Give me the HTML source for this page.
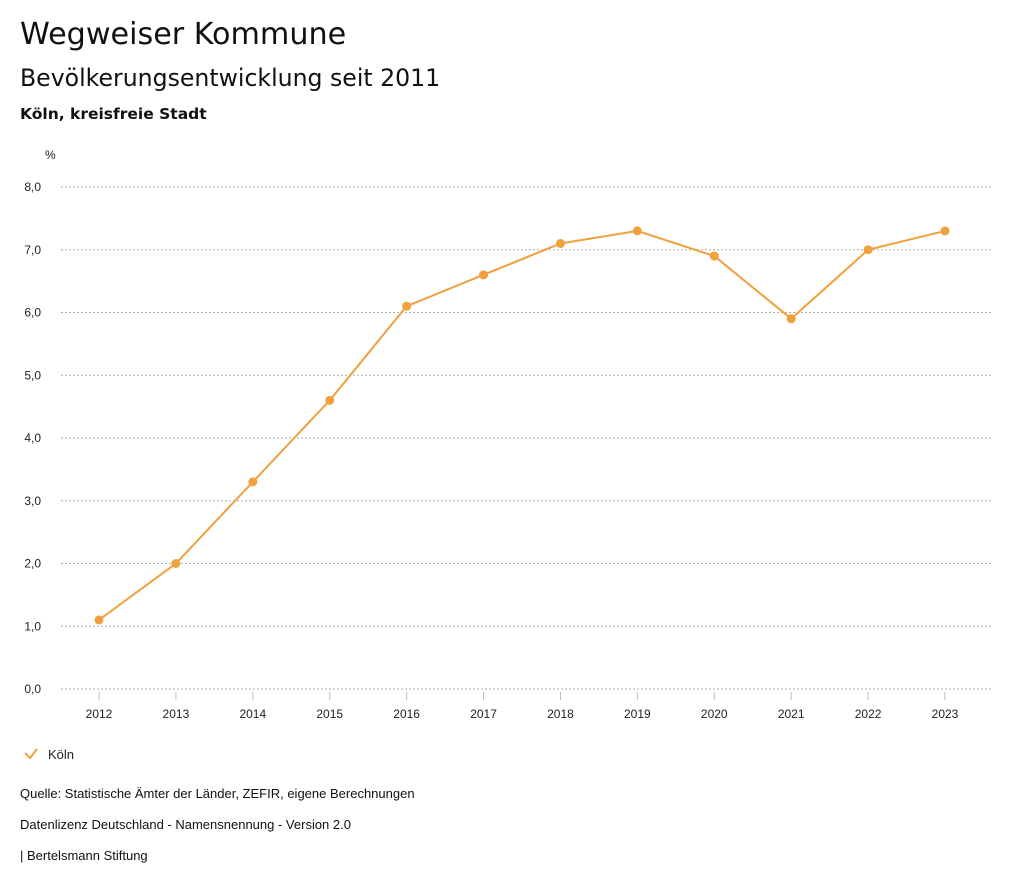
<!DOCTYPE html>
<html><head><meta charset="utf-8"><style>
body{margin:0;background:#fff;font-family:"Liberation Sans","DejaVu Sans",sans-serif;color:#111;}
.t{position:absolute;left:20px;white-space:nowrap}
.h{font-family:"DejaVu Sans",sans-serif}
</style></head><body>
<div style="position:relative;width:1024px;height:888px;overflow:hidden">
<div class="t h" style="top:17px;font-size:30.2px">Wegweiser Kommune</div>
<div class="t h" style="top:64px;font-size:23.6px">Bevölkerungsentwicklung seit 2011</div>
<div class="t h" style="top:105px;font-size:15.5px;font-weight:bold">Köln, kreisfreie Stadt</div>
<svg id="chart" width="1024" height="888" style="position:absolute;left:0;top:0"></svg>
<div class="t" style="top:786px;font-size:13px">Quelle: Statistische Ämter der Länder, ZEFIR, eigene Berechnungen</div>
<div class="t" style="top:817px;font-size:13px">Datenlizenz Deutschland - Namensnennung - Version 2.0</div>
<div class="t" style="top:848px;font-size:13px">| Bertelsmann Stiftung</div>
</div>
<script>
const years=["2012","2013","2014","2015","2016","2017","2018","2019","2020","2021","2022","2023"];
const values=[1.1,2.0,3.3,4.6,6.1,6.6,7.1,7.3,6.9,5.9,7.0,7.3];
const yTicks=[0,1,2,3,4,5,6,7,8];
const yTickLabels=["0,0","1,0","2,0","3,0","4,0","5,0","6,0","7,0","8,0"];
const NS="http://www.w3.org/2000/svg";
const svg=document.getElementById('chart');
const yMin=0,yMax=8,pTop=187,pBot=689,pLeft=61,pRight=991,x0=99,x1=945;
const y=v=>pBot-(v-yMin)/(yMax-yMin)*(pBot-pTop);
const x=i=>x0+i*(x1-x0)/(years.length-1);
function mk(tag,attrs){const e=document.createElementNS(NS,tag);for(const k in attrs)e.setAttribute(k,attrs[k]);svg.appendChild(e);return e;}
const u=mk('text',{x:45,y:159,'font-size':12,fill:'#222'});u.textContent='%';


yTicks.forEach((t,i)=>{
 const l=mk('line',{x1:pLeft,x2:pRight,y1:y(t),y2:y(t),stroke:'#aaa','stroke-dasharray':'2,2','stroke-width':1});
 
 
 const tx=mk('text',{x:41,y:y(t)+4,'text-anchor':'end','font-size':12,fill:'#222'});tx.textContent=yTickLabels[i];
 
 
});
years.forEach((yr,i)=>{
 const tk=mk('line',{x1:x(i),x2:x(i),y1:692,y2:700,stroke:'#bbb'});
 
 
 const tx=mk('text',{x:x(i),y:718,'text-anchor':'middle','font-size':12,fill:'#222'});tx.textContent=yr;
 
 
});
const line=mk('polyline',{points:values.map((v,i)=>x(i)+','+y(v)).join(' '),fill:'none',stroke:'#f0a03c','stroke-width':2});


values.forEach((v,i)=>{
 const c=mk('circle',{cx:x(i),cy:y(v),r:4.5,fill:'#f0a03c'});
 
 
});
const chk=mk('polyline',{points:'25,753 30,758 37,749',fill:'none',stroke:'#f0a03c','stroke-width':2});


const lt=mk('text',{x:48,y:759,'font-size':13,fill:'#222'});lt.textContent='Köln';


</script>
</body></html>
